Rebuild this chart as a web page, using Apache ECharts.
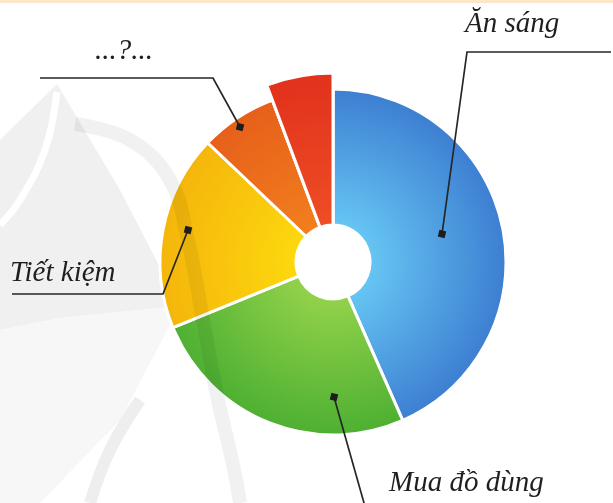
<!DOCTYPE html>
<html>
<head>
<meta charset="utf-8">
<script src="https://cdn.jsdelivr.net/npm/echarts@6/dist/echarts.min.js"></script>
<style>
  html, body { margin: 0; padding: 0; background: #fff; }
  #chart { width: 613px; height: 503px; }
</style>
</head>
<body>
<div id="chart"></div>
<script>
// du lieu doc tu hinh (phan tram)
var categories = ["Ăn sáng", "Mua đồ dùng", "Tiết kiệm", "...?...", "Khác"];
var values = [43.4, 25.4, 18.3, 7.2, 5.7];
var labelTexts = ["Ăn sáng", "Mua đồ dùng", "Tiết kiệm", "...?...", ""];

var cx = 333, cy = 262;

// mau: tam sang, vien dam
var colorPairs = [
  ["#66c6f3", "#3b7bd0"],
  ["#93d24a", "#4aae31"],
  ["#fdd80e", "#f4b40b"],
  ["#f27f1e", "#e65e1a"],
  ["#ee4e25", "#e2331d"]
];

function grad(pair) {
  return {
    type: "radial", x: cx, y: cy, r: 180, global: true,
    colorStops: [
      { offset: 0.2, color: pair[0] },
      { offset: 1, color: pair[1] }
    ]
  };
}

// vi tri nhan va duong chi (theo pixel)
var callouts = [
  { pts: [[442, 234], [467, 52], [611, 52]], x: 465, y: 24 },
  { pts: [[334, 397], [366, 510]], x: 389, y: 483 },
  { pts: [[188, 230], [163, 294], [12, 294]], x: 10, y: 273 },
  { pts: [[240, 127], [213, 78], [40, 78]], x: 95, y: 51 },
  null
];

var mainData = categories.map(function (name, i) {
  return {
    name: name,
    value: values[i],
    itemStyle: { color: grad(colorPairs[i]) }
  };
});

// lat cuoi (do) noi cao hon
var bigData = categories.map(function (name, i) {
  var last = i === categories.length - 1;
  return {
    name: name,
    value: values[i],
    itemStyle: last
      ? { color: grad(colorPairs[i]), borderColor: "#fff", borderWidth: 3 }
      : { color: "rgba(0,0,0,0)", borderWidth: 0 }
  };
});

var leaders = [];
callouts.forEach(function (c) {
  if (!c) return;
  leaders.push({
    type: "polyline",
    shape: { points: c.pts },
    style: { stroke: "#262626", lineWidth: 1.7, fill: null },
    z: 100
  });
  leaders.push({
    type: "rect",
    x: c.pts[0][0], y: c.pts[0][1],
    rotation: -0.25,
    shape: { x: -3.5, y: -3.5, width: 7, height: 7 },
    style: { fill: "#1e1e1e" },
    z: 101
  });
});

// logo mo phia sau
var watermark = [
  {
    type: "polygon",
    shape: { points: [[57, 84], [120, 190], [180, 306], [60, 318], [0, 330], [0, 140]] },
    style: { fill: "#f0f0f0" },
    z: -10
  },
  {
    type: "polygon",
    shape: { points: [[0, 330], [60, 318], [180, 306], [120, 420], [40, 503], [0, 503]] },
    style: { fill: "#f7f7f7" },
    z: -10
  },
  {
    type: "polyline",
    shape: { points: [[57, 92], [45, 150], [20, 200], [0, 225]], smooth: 0.4 },
    style: { stroke: "#fff", lineWidth: 7, fill: null },
    z: -9
  },
  {
    type: "polyline",
    shape: { points: [[140, 400], [110, 450], [90, 503]], smooth: 0.4 },
    style: { stroke: "#eeeeee", lineWidth: 12, fill: null },
    z: -9
  },
  {
    type: "polyline",
    shape: {
      points: [[75, 124], [130, 140], [170, 180], [188, 240], [203, 320],
               [218, 400], [232, 460], [240, 503]],
      smooth: 0.4
    },
    style: { stroke: "rgba(0,0,0,0.055)", lineWidth: 14, fill: null },
    z: 10
  },
  {
    type: "rect",
    shape: { x: 0, y: 0, width: 613, height: 3 },
    style: { fill: "#fbe6cc" },
    z: -10
  }
];

var chart = echarts.init(document.getElementById("chart"));
chart.setOption({
  backgroundColor: "#fff",
  animation: false,
  graphic: watermark.concat(leaders),
  series: [
    {
      type: "pie",
      center: [cx, cy],
      radius: [37, 173],
      startAngle: 90,
      clockwise: true,
      silent: true,
      data: mainData,
      itemStyle: { borderColor: "#fff", borderWidth: 3 },
      label: {
        show: true,
        position: "outside",
        formatter: function (p) { return labelTexts[p.dataIndex]; },
        fontFamily: "Liberation Serif",
        fontStyle: "italic",
        fontSize: 29,
        lineHeight: 29,
        color: "#1f1f1f",
        align: "left",
        verticalAlign: "middle",
        overflow: "none"
      },
      labelLine: { show: false },
      labelLayout: function (params) {
        var c = callouts[params.dataIndex];
        if (!c) {
          return { x: -999, y: -999 };
        }
        return {
          x: c.x,
          y: c.y,
          align: "left",
          verticalAlign: "middle",
          hideOverlap: false,
          moveOverlap: false
        };
      }
    },
    {
      type: "pie",
      center: [cx, cy],
      radius: [37, 189],
      startAngle: 90,
      clockwise: true,
      silent: true,
      data: bigData,
      label: { show: false },
      labelLine: { show: false }
    }
  ]
});
</script>
</body>
</html>
